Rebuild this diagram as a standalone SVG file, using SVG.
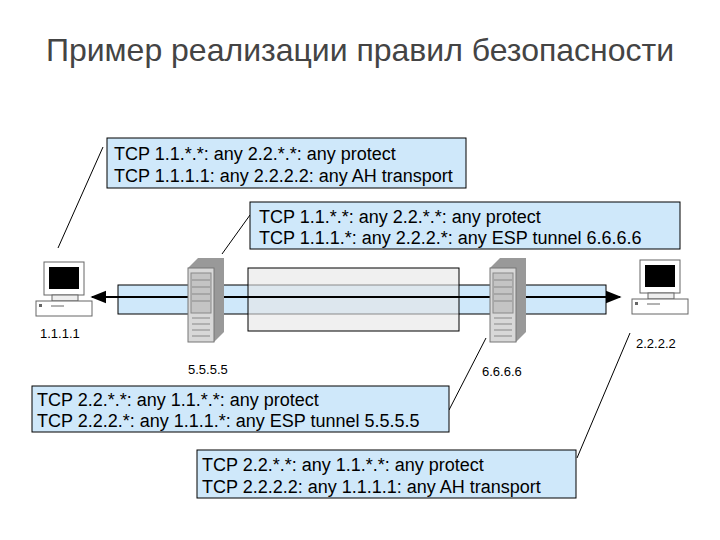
<svg xmlns="http://www.w3.org/2000/svg" width="720" height="540" viewBox="0 0 720 540">
<defs>
<style>
text{font-family:"Liberation Sans",Arial,sans-serif;fill:#000}
.t{font-size:18px}
.s{font-size:13px}
.box{fill:#cfe8fa;stroke:#000;stroke-width:1}
.ln{stroke:#000;stroke-width:1;fill:none}
</style>
<marker id="a" viewBox="0 0 10 10" refX="9" refY="5" markerWidth="8" markerHeight="8" orient="auto-start-reverse"><path d="M0,1 L10,5 L0,9 z" fill="#000"/></marker>
<g id="pc"><rect x="8" y="0" width="40" height="33" fill="#fff" stroke="#666"/><rect x="13" y="5" width="30" height="22" fill="#000"/><rect x="16" y="33" width="26" height="6" fill="#eee" stroke="#666"/><rect x="0" y="39" width="56" height="15" fill="#fff" stroke="#666"/><line x1="15" y1="44" x2="28" y2="44" stroke="#666"/><rect x="3" y="42" width="3" height="3" fill="#666"/></g>
<g id="srv"><path d="M2,10 L12,0 L38,0 L38,74 L28,84 Z" fill="#999"/><rect x="2" y="10" width="26" height="74" fill="#d8d8d8" stroke="#777"/><rect x="5" y="15" width="20" height="40" fill="#c4c4c4" stroke="#888"/><g stroke="#888"><line x1="6" y1="22" x2="24" y2="22"/><line x1="6" y1="29" x2="24" y2="29"/><line x1="6" y1="36" x2="24" y2="36"/><line x1="6" y1="43" x2="24" y2="43"/><line x1="6" y1="60" x2="24" y2="60"/><line x1="6" y1="66" x2="24" y2="66"/><line x1="6" y1="72" x2="24" y2="72"/><line x1="6" y1="78" x2="24" y2="78"/></g></g>
</defs>
<rect width="720" height="540" fill="#fff"/>
<text x="360" y="61" text-anchor="middle" style="font-size:32px;fill:#444">Пример реализации правил безопасности</text>
<g id="connectors">
<rect x="118" y="285" width="488" height="29" fill="#cfe8fa" stroke="#000"/>
<rect x="248" y="268" width="211" height="63" fill="#e6e6e6" fill-opacity="0.6" stroke="#000"/>
<line x1="92" y1="297" x2="620" y2="297" stroke="#000" stroke-width="2" marker-start="url(#a)" marker-end="url(#a)"/>
<line class="ln" x1="58" y1="248" x2="103" y2="147"/>
<line class="ln" x1="222" y1="254" x2="250" y2="215"/>
<line class="ln" x1="486" y1="338" x2="449" y2="410"/>
<line class="ln" x1="630" y1="333" x2="577" y2="458"/>
</g>
<g id="pc1"><use href="#pc" x="36" y="262"/><text class="s" x="40" y="338">1.1.1.1</text></g>
<g id="pc2"><use href="#pc" x="632" y="260"/><text class="s" x="636" y="348">2.2.2.2</text></g>
<g id="srv1"><use href="#srv" x="186" y="258"/><text class="s" x="188" y="374">5.5.5.5</text></g>
<g id="srv2"><use href="#srv" x="488" y="258"/><text class="s" x="482" y="376">6.6.6.6</text></g>
<g id="r1"><rect class="box" x="107" y="138" width="359" height="50"/><text class="t" x="114" y="160">TCP 1.1.*.*: any 2.2.*.*: any protect</text><text class="t" x="114" y="182">TCP 1.1.1.1: any 2.2.2.2: any AH transport</text></g>
<g id="r2"><rect class="box" x="250" y="202" width="430" height="47"/><text class="t" x="259" y="223">TCP 1.1.*.*: any 2.2.*.*: any protect</text><text class="t" x="259" y="244">TCP 1.1.1.*: any 2.2.2.*: any ESP tunnel 6.6.6.6</text></g>
<g id="r3"><rect class="box" x="32" y="386" width="417" height="46"/><text class="t" x="37" y="406">TCP 2.2.*.*: any 1.1.*.*: any protect</text><text class="t" x="37" y="427">TCP 2.2.2.*: any 1.1.1.*: any ESP tunnel 5.5.5.5</text></g>
<g id="r4"><rect class="box" x="197" y="450" width="379" height="48"/><text class="t" x="202" y="471">TCP 2.2.*.*: any 1.1.*.*: any protect</text><text class="t" x="202" y="493">TCP 2.2.2.2: any 1.1.1.1: any AH transport</text></g>
</svg>
